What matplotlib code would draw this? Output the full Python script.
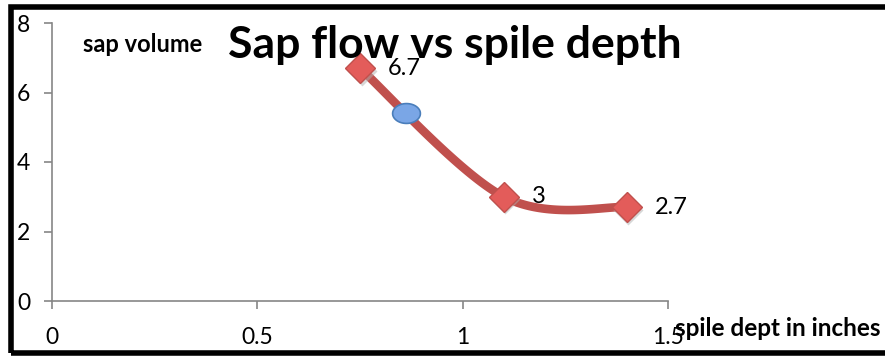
import numpy as np
import matplotlib
matplotlib.use("Agg")
import matplotlib.pyplot as plt
from matplotlib.patches import Rectangle
from matplotlib.path import Path
from matplotlib.transforms import ScaledTranslation

# spile depth (inches) vs sap volume
depth = [0.75, 1.1, 1.4]
sap = [6.7, 3.0, 2.7]
labels = ["6.7", "3", "2.7"]

# extra highlighted point on the curve
mark_x = [0.863]
mark_y = [5.4]

x_ticks = [0, 0.5, 1, 1.5]
x_tick_labels = ["0", "0.5", "1", "1.5"]
y_ticks = [0, 2, 4, 6, 8]

plt.rcParams["font.family"] = ["Lato", "DejaVu Sans"]


def smooth_curve(xs, ys, sx, sy, n=60):
    # Catmull-Rom style bezier through the points, done in screen-like units
    p = np.column_stack([np.asarray(xs) * sx, np.asarray(ys) * sy])
    ext = np.vstack([p[0], p, p[-1]])
    out = []
    for i in range(len(p) - 1):
        p0, p1, p2, p3 = ext[i], ext[i + 1], ext[i + 2], ext[i + 3]
        c1 = p1 + (p2 - p0) / 6.0
        c2 = p2 - (p3 - p1) / 6.0
        t = np.linspace(0, 1, n)[:, None]
        seg = ((1 - t) ** 3) * p1 + 3 * ((1 - t) ** 2) * t * c1 \
            + 3 * (1 - t) * t ** 2 * c2 + t ** 3 * p2
        out.append(seg)
    out = np.vstack(out)
    return out[:, 0] / sx, out[:, 1] / sy


fig = plt.figure(figsize=(8.85, 3.58), dpi=100)
ax = fig.add_axes([52 / 885, 1 - 301 / 358, (668 - 52) / 885, (301 - 23) / 358])

ax.set_xlim(0, 1.5)
ax.set_ylim(0, 8)

cx, cy = smooth_curve(depth, sap, 410.0, 34.75)
ax.plot(cx, cy, color="#C0504D", lw=6.2, solid_capstyle="round", zorder=2)

# soft shadow under the diamonds
shadow = ax.transData + ScaledTranslation(1.5 / 100, -2.5 / 100, fig.dpi_scale_trans)
ax.plot(depth, sap, linestyle="none", marker="D", markersize=15,
        markerfacecolor="#b0b0b0", markeredgecolor="none", alpha=0.5,
        transform=shadow, zorder=3)
ax.plot(depth, sap, linestyle="none", marker="D", markersize=15,
        markerfacecolor="#E35C5A", markeredgecolor="#C0504D",
        markeredgewidth=1.0, zorder=4)

# ellipse marker
theta = np.linspace(0, 2 * np.pi, 80)
ell = Path(np.column_stack([1.4 * np.cos(theta), np.sin(theta)]))
ax.plot(mark_x, mark_y, linestyle="none", marker=ell, markersize=20,
        markerfacecolor="#7AA6E6", markeredgecolor="#4A7EBB",
        markeredgewidth=1.2, zorder=5)

for x, y, s in zip(depth, sap, labels):
    ax.annotate(s, (x, y), xytext=(20, 0), textcoords="offset points",
                fontsize=17, va="center", ha="left", color="black", zorder=6)

ax.set_xticks(x_ticks)
ax.set_xticklabels(x_tick_labels)
ax.set_yticks(y_ticks)
for side in ["top", "right"]:
    ax.spines[side].set_visible(False)
for side in ["left", "bottom"]:
    ax.spines[side].set_color("#868686")
    ax.spines[side].set_linewidth(1.2)
ax.tick_params(axis="both", colors="#868686", length=5.5, width=1.2,
               labelcolor="black", labelsize=16.5)
ax.tick_params(axis="x", pad=13)
ax.tick_params(axis="y", pad=10)

fig.text(455 / 885, 1 - 45 / 358, "Sap flow vs spile depth", fontsize=32,
         fontweight="bold", ha="center", va="center")
fig.text(143 / 885, 1 - 45 / 358, "sap volume", fontsize=17,
         fontweight="bold", ha="center", va="center")
fig.text(778 / 885, 1 - 328 / 358, "spile dept in inches", fontsize=17.5,
         fontweight="bold", ha="center", va="center")

# heavy black frame around the chart (right edge runs off the canvas)
fig.patches.append(Rectangle((10.5 / 885, 1 - 353 / 358), 950 / 885, 346 / 358,
                             transform=fig.transFigure, fill=False,
                             edgecolor="black", lw=4, zorder=10))

fig.savefig("out.png", dpi=100)
